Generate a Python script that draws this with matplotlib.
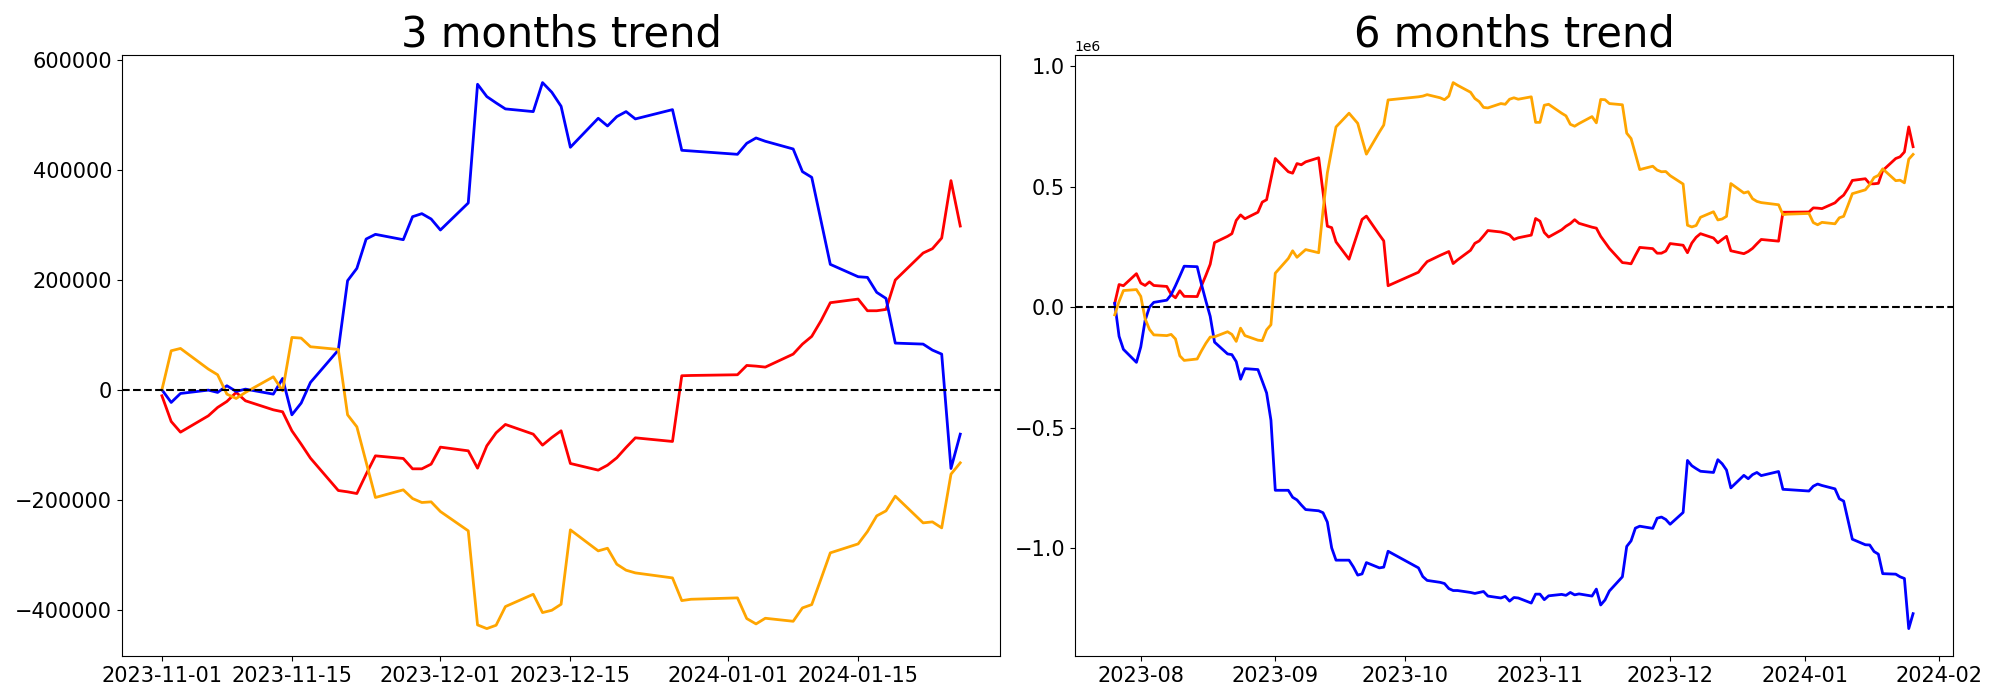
import matplotlib
matplotlib.use("Agg")
import matplotlib.pyplot as plt
import numpy as np
import pandas as pd

# ---------------- 3 months data ----------------
dates_3m = ["2023-11-01", "2023-11-02", "2023-11-03", "2023-11-06", "2023-11-07", "2023-11-08",
            "2023-11-09", "2023-11-10", "2023-11-13", "2023-11-14", "2023-11-15", "2023-11-16",
            "2023-11-17", "2023-11-20", "2023-11-21", "2023-11-22", "2023-11-23", "2023-11-24",
            "2023-11-27", "2023-11-28", "2023-11-29", "2023-11-30",
            "2023-12-01", "2023-12-04", "2023-12-05", "2023-12-06", "2023-12-07", "2023-12-08",
            "2023-12-11", "2023-12-12", "2023-12-13", "2023-12-14", "2023-12-15", "2023-12-18",
            "2023-12-19", "2023-12-20", "2023-12-21", "2023-12-22", "2023-12-26", "2023-12-27",
            "2023-12-28",
            "2024-01-02", "2024-01-03", "2024-01-04", "2024-01-05", "2024-01-08", "2024-01-09",
            "2024-01-10", "2024-01-11", "2024-01-12", "2024-01-15", "2024-01-16", "2024-01-17",
            "2024-01-18", "2024-01-19", "2024-01-22", "2024-01-23", "2024-01-24", "2024-01-25",
            "2024-01-26"]

red_3m = [-10900, -57600, -77000, -47300, -32100, -21200, -4800, -20000, -36400, -40000,
          -74500, -98800, -124200, -183000, -185400, -188500, -153300, -120000, -124800, -143600,
          -143600, -135100,
          -104200, -110900, -142400, -101800, -78200, -63000, -80600, -100600, -86700, -74500,
          -133900, -146000, -137000, -123600, -104800, -87300, -93900, 25500, 26000,
          27300, 44200, 43000, 41200, 64800, 83000, 97000, 125400, 158200, 164800,
          143600, 143600, 146000, 199400, 248500, 256300, 275700, 380000, 297500]

blue_3m = [0, -23000, -6700, -600, -4800, 7300, -3000, 1200, -7900, 20600,
           -45500, -24200, 13300, 72100, 198200, 220600, 273900, 282400, 272700, 314500,
           320000, 310300,
           290300, 339400, 555100, 532700, 521200, 510300, 505400, 558100, 540600, 515100,
           440600, 493300, 479300, 496300, 505400, 492100, 509000, 435100, 433900,
           427800, 447800, 457500, 451500, 437500, 396300, 386000, 307000, 227900, 205400,
           204200, 177000, 166000, 84800, 83000, 72100, 64800, -143000, -80600]

orange_3m = [0, 70900, 75100, 37600, 27300, -7900, -15800, -4800, 23600, -1800,
             95100, 93900, 78200, 73300, -45500, -67300, -131500, -195700, -181800, -197600,
             -204800, -203600,
             -221200, -256300, -427200, -433900, -427800, -393900, -371500, -404800, -400600, -389700,
             -254500, -292700, -287900, -316900, -327800, -332700, -341800, -383000, -380600,
             -378100, -415700, -425400, -415100, -420600, -396300, -390300, -343600, -296300, -280000,
             -257600, -229100, -220000, -193300, -241800, -240000, -250900, -153300, -132700]

# ---------------- 6 months data (values in thousands) ----------------
dates_6m_early = ["2023-07-26", "2023-07-27", "2023-07-28", "2023-07-31",
                  "2023-08-01", "2023-08-02", "2023-08-03", "2023-08-04", "2023-08-07", "2023-08-08",
                  "2023-08-09", "2023-08-10", "2023-08-11", "2023-08-14", "2023-08-15", "2023-08-16",
                  "2023-08-17", "2023-08-18", "2023-08-21", "2023-08-22", "2023-08-23", "2023-08-24",
                  "2023-08-25", "2023-08-28", "2023-08-29", "2023-08-30", "2023-08-31",
                  "2023-09-01", "2023-09-04", "2023-09-05", "2023-09-06", "2023-09-07", "2023-09-08",
                  "2023-09-11", "2023-09-12", "2023-09-13", "2023-09-14", "2023-09-15", "2023-09-18",
                  "2023-09-19", "2023-09-20", "2023-09-21", "2023-09-22", "2023-09-25", "2023-09-26",
                  "2023-09-27",
                  "2023-10-04", "2023-10-05", "2023-10-06", "2023-10-09", "2023-10-10", "2023-10-11",
                  "2023-10-12", "2023-10-13", "2023-10-16", "2023-10-17", "2023-10-18", "2023-10-19",
                  "2023-10-20", "2023-10-23", "2023-10-24", "2023-10-25", "2023-10-26", "2023-10-27",
                  "2023-10-30", "2023-10-31"]
dates_6m = dates_6m_early + dates_3m

red_6m_k = [16, 94, 89, 139,
            100, 90, 105, 90, 86, 53, 39, 68, 45, 44, 89, 132, 178, 268, 294, 305, 360, 383, 367,
            394, 436, 446, 532,
            617, 562, 556, 596, 591, 603, 620, 478, 336, 330, 271, 199, 254, 309, 364, 378, 300,
            275, 89,
            145, 168, 189, 215, 223, 231, 181, 196, 236, 265, 275, 296, 318, 312, 307, 300, 281,
            288, 299, 368,
            357, 310, 291, 321, 336, 347, 363, 348, 332, 328, 294, 269, 244, 185, 183, 180, 215,
            248, 243, 224, 224, 233,
            264, 257, 226, 266, 290, 305, 287, 267, 281, 294, 234, 222, 231, 244, 263, 281, 274,
            394, 394,
            395, 412, 411, 409, 433, 451, 465, 493, 526, 533, 512, 512, 514, 567, 617, 624, 644,
            748, 666]

blue_6m_k = [16, -121, -175, -229,
             -165, -55, 0, 20, 29, 52, 89, 129, 170, 168, 94, 26, -38, -145, -194, -197, -226,
             -299, -255, -259, -307, -356, -469,
             -760, -760, -789, -800, -821, -840, -845, -853, -892, -999, -1050, -1050, -1078,
             -1112, -1107, -1060, -1082, -1079, -1013,
             -1082, -1118, -1134, -1142, -1147, -1168, -1176, -1176, -1184, -1188, -1184, -1180,
             -1199, -1207, -1200, -1220, -1205, -1207, -1228, -1191,
             -1191, -1214, -1198, -1192, -1196, -1184, -1194, -1190, -1199, -1170, -1236, -1215,
             -1178, -1119, -993, -970, -917, -909, -918, -876, -871, -881,
             -901, -852, -636, -658, -670, -681, -686, -633, -650, -676, -750, -698, -712, -695,
             -686, -699, -682, -756, -757,
             -763, -743, -734, -740, -754, -795, -805, -884, -963, -986, -987, -1014, -1025,
             -1106, -1108, -1119, -1126, -1334, -1272]

orange_6m_k = [-32, 24, 69, 73,
               45, -48, -92, -115, -118, -113, -132, -202, -221, -215, -181, -150, -124, -123,
               -102, -113, -142, -87, -118, -137, -139, -94, -73,
               141, 202, 234, 207, 223, 239, 226, 400, 557, 654, 748, 805, 784, 763, 698, 635,
               727, 756, 860,
               873, 876, 882, 869, 861, 876, 932, 921, 892, 866, 853, 829, 827, 845, 842, 863,
               869, 863, 873, 767,
               767, 838, 842, 805, 794, 759, 751, 762, 791, 765, 862, 861, 845, 840, 722, 700,
               636, 571, 585, 569, 562, 563,
               546, 511, 340, 333, 339, 373, 396, 362, 366, 377, 513, 474, 479, 450, 439, 434,
               425, 384, 386,
               389, 351, 342, 352, 346, 371, 377, 423, 471, 487, 509, 538, 547, 574, 525, 527,
               516, 614, 634]

titles = ["3 months trend", "6 months trend"]

fig, axes = plt.subplots(1, 2, figsize=(20, 7), dpi=100)
fig.subplots_adjust(left=0.061, right=0.9765, bottom=0.063, top=0.921, wspace=0.085)

panels = [
    (dates_3m, np.array(red_3m), np.array(blue_3m), np.array(orange_3m)),
    (dates_6m, np.array(red_6m_k) * 1000, np.array(blue_6m_k) * 1000, np.array(orange_6m_k) * 1000),
]

for ax, (dts, r, b, o), title in zip(axes, panels, titles):
    x = pd.to_datetime(dts)
    ax.plot(x, r, color="red", lw=2)
    ax.plot(x, b, color="blue", lw=2)
    ax.plot(x, o, color="orange", lw=2)
    ax.axhline(0, color="black", linestyle="--", lw=1.5)
    ax.set_title(title, fontsize=30)
    ax.tick_params(labelsize=15)

fig.savefig("out.png", dpi=100)
